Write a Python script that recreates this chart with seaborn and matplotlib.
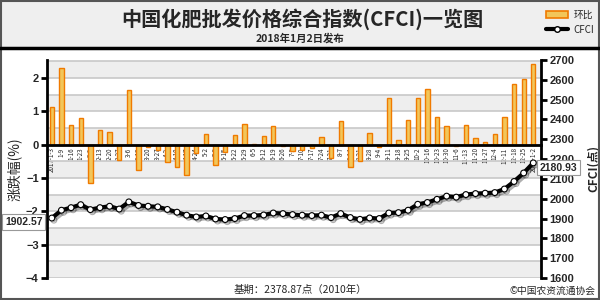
import numpy as np
import pandas as pd
import matplotlib
matplotlib.use("Agg")
import matplotlib.pyplot as plt
import seaborn as sns
from matplotlib.patches import Rectangle, Patch
from matplotlib.lines import Line2D
import matplotlib.patheffects as pe

dates = ["2017-1-3", "1-9", "1-16", "1-23", "2-6", "2-13", "2-20", "2-27", "3-6", "3-13",
         "3-20", "3-27", "4-3", "4-10", "4-17", "4-24", "5-2", "5-8", "5-15", "5-22",
         "5-29", "6-5", "6-12", "6-19", "6-26", "7-3", "7-10", "7-17", "7-24", "7-31",
         "8-7", "8-14", "8-21", "8-28", "9-4", "9-11", "9-18", "9-25", "10-2", "10-16",
         "10-23", "10-30", "11-6", "11-13", "11-20", "11-27", "12-4", "12-11", "12-18", "12-25",
         "2018-1-2"]
pct = [1.13, 2.31, 0.58, 0.81, -1.14, 0.44, 0.39, -0.47, 1.63, -0.75,
       -0.08, -0.16, -0.52, -0.67, -0.90, -0.25, 0.33, -0.62, -0.22, 0.30,
       0.61, 0.02, 0.25, 0.56, -0.05, -0.20, -0.17, -0.10, 0.23, -0.40,
       0.72, -0.67, -0.50, 0.35, -0.07, 1.40, 0.13, 0.73, 1.40, 1.68,
       0.82, 0.56, -0.05, 0.58, 0.21, 0.08, 0.33, 0.82, 1.83, 1.96,
       2.41]
cfci = [1902.57, 1942, 1955, 1970, 1945, 1955, 1962, 1948, 1984, 1966,
        1962, 1959, 1946, 1932, 1917, 1908, 1913, 1898, 1895, 1900,
        1915, 1915, 1918, 1928, 1925, 1920, 1917, 1915, 1917, 1905,
        1925, 1905, 1896, 1903, 1900, 1928, 1930, 1942, 1972, 1981,
        1997, 2013, 2008, 2021, 2026, 2028, 2031, 2049, 2087, 2130,
        2180.93]
left_ticks = [2, 1, 0, -1, -2, -3, -4]
right_ticks = [1600, 1700, 1800, 1900, 2000, 2100, 2200, 2300, 2400, 2500, 2600, 2700]

title = "中国化肥批发价格综合指数(CFCI)一览图"
subtitle = "2018年1月2日发布"
left_label = "涨跌幅(%)"
right_label = "CFCI(点)"
footer = "基期：2378.87点（2010年）"
credit = "©中国农资流通协会"

df = pd.DataFrame({"date": dates, "pct": pct, "cfci": cfci})

sns.set_theme(style="white")
plt.rcParams["font.family"] = ["Noto Sans CJK SC", "DejaVu Sans"]
num_font = ["Liberation Sans", "Noto Sans CJK SC"]

bar_face = "#f2c65a"
bar_edge = "#f07a00"

fig = plt.figure(figsize=(6, 3), dpi=100)
fig.patch.set_facecolor("white")
fig.add_artist(Rectangle((0, 1 - 48 / 300), 1, 48 / 300, transform=fig.transFigure,
                         facecolor="#efefef", edgecolor="none", zorder=0))
fig.add_artist(Line2D([0, 1], [1 - 48 / 300] * 2, transform=fig.transFigure, color="black", lw=2.5))
fig.add_artist(Rectangle((0.002, 0.003), 0.996, 0.994, transform=fig.transFigure,
                         fill=False, edgecolor="#555555", lw=1.5))

ax = fig.add_axes([47 / 600, 22 / 300, 494 / 600, 218 / 300])
ax.set_facecolor("white")
for lo in np.arange(-4, 2.5, 1.0):
    ax.axhspan(lo, lo + 0.5, color="#eeeeee", zorder=0, lw=0)

sns.barplot(data=df, x="date", y="pct", order=dates, ax=ax, color=bar_face, saturation=1,
            width=0.45, edgecolor=bar_edge, linewidth=1.0, zorder=2)
ax.set_xlim(-0.5, len(dates) - 0.2)
ax.set_ylim(-4, 2.54)
ax.set_yticks(left_ticks)
ax.set_yticks(np.arange(-4, 2.6, 0.5), minor=True)
ax.grid(axis="y", which="both", color="#c8c8c8", lw=1.2, zorder=1)
ax.set_axisbelow(True)
ax.set_xticks(np.arange(-0.5, len(dates), 1.0), minor=True)
ax.tick_params(axis="x", which="major", length=0, labelrotation=90, labelsize=4.5, pad=2)
ax.tick_params(axis="x", which="minor", length=3, width=1, color="black", direction="out")
ax.tick_params(axis="y", which="major", length=4, width=2, color="black", direction="out",
               labelsize=8, pad=2)
ax.tick_params(axis="y", which="minor", length=0)
for lbl in ax.get_xticklabels():
    lbl.set_fontweight("bold")
for lbl in ax.get_yticklabels():
    lbl.set_fontweight("bold")
    lbl.set_family(num_font)
ax.spines["bottom"].set_position(("data", 0))
ax.spines["bottom"].set_linewidth(2)
ax.spines["bottom"].set_color("black")
ax.spines["left"].set_linewidth(2)
ax.spines["left"].set_color("black")
ax.spines["top"].set_visible(False)
ax.spines["right"].set_visible(False)
ax.set_xlabel("")
ax.set_ylabel(left_label, fontsize=10, labelpad=3)

ax2 = ax.twinx()
sns.lineplot(data=df, x="date", y="cfci", ax=ax2, sort=False, color="black", lw=3,
             marker="o", markersize=4.2, markerfacecolor="white", markeredgecolor="black",
             markeredgewidth=0.8, zorder=5,
             path_effects=[pe.SimpleLineShadow(offset=(1.5, -1.5), alpha=0.35), pe.Normal()])
ax2.set_ylim(1600, 2700)
ax2.set_yticks(right_ticks)
ax2.tick_params(axis="y", length=4, width=2, color="black", direction="out", labelsize=8, pad=2)
for lbl in ax2.get_yticklabels():
    lbl.set_fontweight("bold")
    lbl.set_family(num_font)
for s in ["top", "left", "bottom"]:
    ax2.spines[s].set_visible(False)
ax2.spines["right"].set_linewidth(2)
ax2.spines["right"].set_color("black")
ax2.grid(False)
ax2.set_xlabel("")
ax2.set_ylabel(right_label, fontsize=8.5, fontweight="bold", labelpad=9)

box = dict(boxstyle="square,pad=0.25", fc="white", ec="#999999", lw=0.8)
ax2.annotate(f"{cfci[0]:.2f}", xy=(0, cfci[0]), xytext=(-28, -4), textcoords="offset pixels",
             ha="center", va="center", fontsize=7.5, fontweight="bold", family=num_font,
             bbox=box, zorder=6)
ax2.annotate(f"{cfci[-1]:.2f}", xy=(len(cfci) - 1, cfci[-1]), xytext=(25, -5),
             textcoords="offset pixels", ha="center", va="center", fontsize=7.5,
             fontweight="bold", family=num_font, bbox=box, zorder=6, annotation_clip=False)

fig.text(302 / 600, 1 - 19 / 300, title, ha="center", va="center", fontsize=14.5, fontweight="bold")
fig.text(300 / 600, 1 - 38 / 300, subtitle, ha="center", va="center", fontsize=7.5, fontweight="bold")
fig.text(300 / 600, 1 - 290 / 300, footer, ha="center", va="center", fontsize=7.5)
fig.text(596 / 600, 1 - 291 / 300, credit, ha="right", va="center", fontsize=7)

handles = [Patch(facecolor=bar_face, edgecolor=bar_edge, lw=1.2, label="环比"),
           Line2D([], [], color="black", lw=3, marker="o", markersize=4, markerfacecolor="white",
                  markeredgecolor="black", label="CFCI")]
fig.legend(handles=handles, loc="upper right", bbox_to_anchor=(598 / 600, 1 - 6 / 300),
           frameon=False, fontsize=7, handlelength=2.2, handleheight=0.8, labelspacing=0.5,
           handletextpad=0.6, borderaxespad=0)

fig.savefig("out.png", dpi=100)
